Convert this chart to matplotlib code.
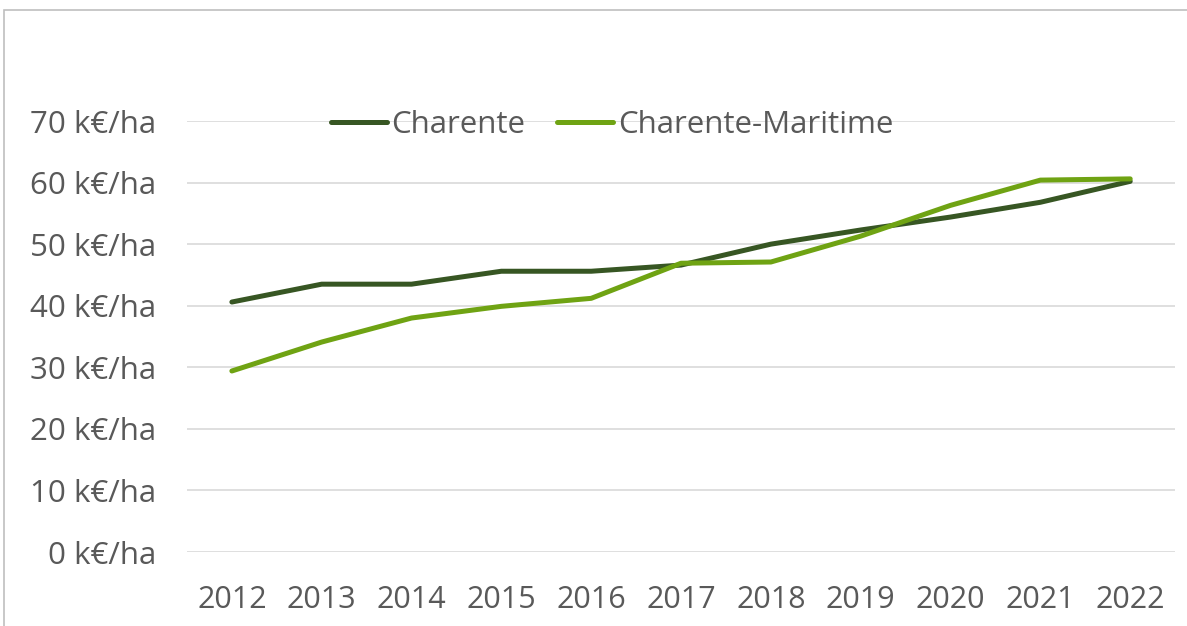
import matplotlib.pyplot as plt
from matplotlib.patches import Rectangle

years = ["2012", "2013", "2014", "2015", "2016", "2017", "2018", "2019", "2020", "2021", "2022"]
charente = [40.6, 43.5, 43.5, 45.6, 45.6, 46.6, 50.0, 52.3, 54.4, 56.8, 60.2]
charente_maritime = [29.4, 34.1, 38.0, 39.9, 41.2, 46.9, 47.1, 51.3, 56.3, 60.4, 60.6]
yticks = [0, 10, 20, 30, 40, 50, 60, 70]

plt.rcParams["font.family"] = ["Open Sans", "DejaVu Sans"]

fig = plt.figure(figsize=(11.87, 6.26), dpi=100)
# chart frame (Excel style border)
fig.patches.append(Rectangle((0.0034, -0.1), 1.2, 1.084, transform=fig.transFigure,
                             fill=False, edgecolor="#BFBFBF", linewidth=1.2))

ax = fig.add_axes([0.1575, 0.1182, 0.8325, 0.6885])
x = range(len(years))
ax.plot(x, charente, color="#375623", linewidth=3.6, label="Charente", solid_capstyle="round")
ax.plot(x, charente_maritime, color="#6FA313", linewidth=3.6, label="Charente-Maritime", solid_capstyle="round")

ax.set_xlim(-0.5, len(years) - 0.5)
ax.set_ylim(0, 70)
ax.set_yticks(yticks)
ax.set_yticklabels([f"{v} k€/ha" for v in yticks])
ax.set_xticks(list(x))
ax.set_xticklabels(years)
ax.tick_params(axis="both", length=0, labelcolor="#595959")
ax.tick_params(axis="y", pad=22, labelsize=22.5)
ax.tick_params(axis="x", pad=24, labelsize=22)
ax.grid(axis="y", color="#D9D9D9", linewidth=1.2)
ax.set_axisbelow(True)
for s in ax.spines.values():
    s.set_visible(False)

for ln in ax.get_lines():
    ln.set_clip_on(False)

ax.legend(loc="center", bbox_to_anchor=(0.43, 0.99), ncol=2, frameon=False,
          fontsize=22.5, labelcolor="#595959", handlelength=1.8, handletextpad=0.15,
          columnspacing=1.0, borderpad=0)

fig.savefig("out.png", dpi=100)
